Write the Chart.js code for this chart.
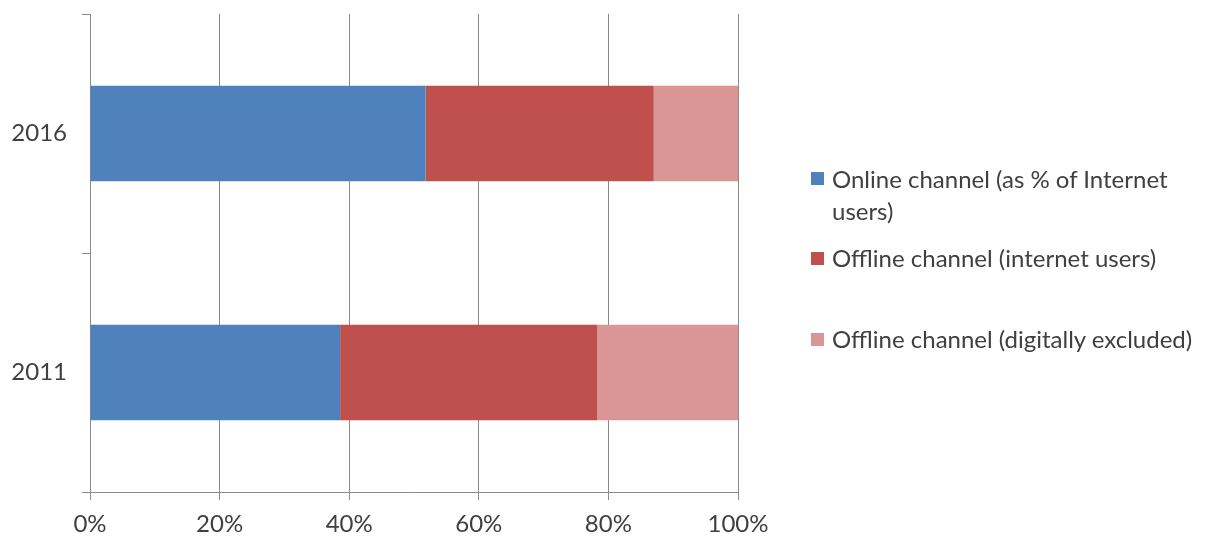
<!DOCTYPE html>
<html>
<head>
<meta charset="utf-8">
<script src="https://cdn.jsdelivr.net/npm/chart.js@4.4.1/dist/chart.umd.min.js"></script>
<style>
  html, body { margin: 0; padding: 0; background: #fff; }
  #wrap { position: relative; width: 1216px; height: 540px; }
  #legend { position: absolute; left: 811px; top: 0; font-family: Lato, sans-serif; font-size: 24px; color: #404040; }
  .item { position: absolute; left: 0; width: 400px; display: flex; align-items: flex-start; line-height: 32px; }
  .box { width: 13px; height: 13px; flex: none; margin-top: 9.5px; margin-right: 8px; }
</style>
</head>
<body>
<div id="wrap">
  <canvas id="chart" width="1216" height="540"></canvas>
  <div id="legend"></div>
</div>
<script>
// data
const categories = ["2016", "2011"]
const online = [51.8, 38.6]
const offlineUsers = [35.2, 39.7]
const offlineExcluded = [13.0, 21.7]
const seriesLabels = [
    "Online channel (as % of Internet users)",
    "Offline channel (internet users)",
    "Offline channel (digitally excluded)"
]
const seriesColors = ["#4F81BD", "#C0504D", "#D99694"]
const xTicks = [0, 20, 40, 60, 80, 100]

const legendTops = [162.5, 242, 323]
const gridColor = "#8a8a8a"
const font = { family: "Lato", size: 24 }

const chart = new Chart(document.getElementById("chart"), {
    type: "bar",
    data: {
        labels: categories,
        datasets: [online, offlineUsers, offlineExcluded].map((vals, i) => ({
            label: seriesLabels[i],
            data: vals,
            backgroundColor: seriesColors[i],
            borderWidth: 0,
            barPercentage: 0.4,
            categoryPercentage: 1
        }))
    },
    options: {
        indexAxis: "y",
        responsive: false,
        animation: false,
        layout: { padding: { top: 14, right: 478, left: 0, bottom: 0 } },
        plugins: { legend: { display: false }, tooltip: { enabled: false } },
        scales: {
            x: {
                stacked: true,
                min: 0,
                max: 100,
                afterBuildTicks: (s) => { s.ticks = xTicks.map(v => ({ value: v })) },
                afterFit: (s) => { s.height = 48; s.paddingLeft = 0; s.paddingRight = 0 },
                ticks: { callback: (v) => v + "%", font: font, color: "#404040", padding: 10, maxRotation: 0 },
                grid: { color: gridColor, lineWidth: 1, tickLength: 8, drawTicks: true },
                border: { display: true, color: gridColor, width: 1 }
            },
            y: {
                stacked: true,
                afterFit: (s) => { s.width = 90; s.paddingTop = 0; s.paddingBottom = 0 },
                ticks: { font: font, color: "#404040", padding: 15 },
                grid: { color: gridColor, drawOnChartArea: false, tickLength: 8, offset: true },
                border: { display: true, color: gridColor, width: 1 }
            }
        }
    }
})

// html legend so the first label can wrap like the original
const legend = document.getElementById("legend")
chart.data.datasets.forEach((ds, i) => {
    const item = document.createElement("div")
    item.className = "item"
    item.style.top = legendTops[i] + "px"
    const box = document.createElement("span")
    box.className = "box"
    box.style.background = ds.backgroundColor
    const txt = document.createElement("span")
    txt.textContent = ds.label
    item.appendChild(box)
    item.appendChild(txt)
    legend.appendChild(item)
})
</script>
</body>
</html>
